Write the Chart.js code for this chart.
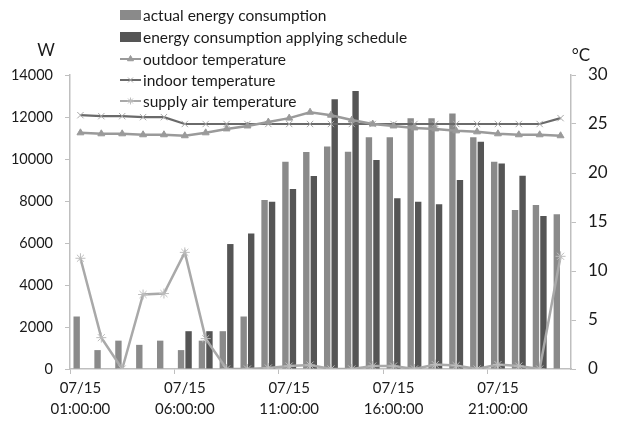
<!DOCTYPE html>
<html>
<head>
<meta charset="utf-8">
<script src="https://cdn.jsdelivr.net/npm/chart.js@4/dist/chart.umd.min.js"></script>
<style>
  html, body { margin: 0; padding: 0; background: #ffffff; }
  #wrap { position: relative; width: 618px; height: 424px; }
</style>
</head>
<body>
<div id="wrap"><canvas id="c" width="618" height="424"></canvas></div>
<script>
// Hourly timestamps for 15 July
const hours = ['01:00:00','02:00:00','03:00:00','04:00:00','05:00:00','06:00:00','07:00:00','08:00:00',
  '09:00:00','10:00:00','11:00:00','12:00:00','13:00:00','14:00:00','15:00:00','16:00:00',
  '17:00:00','18:00:00','19:00:00','20:00:00','21:00:00','22:00:00','23:00:00','24:00:00'];
const dateLabel = '07/15';

// Energy consumption (W)
const actualEnergy = [2500, 900, 1350, 1150, 1350, 900, 1350, 1800, 2500, 8050, 9870, 10330,
  10590, 10350, 11030, 11030, 11940, 11940, 12170, 11030, 9870, 7570, 7810, 7370];
const scheduledEnergy = [0, 0, 0, 0, 0, 1800, 1800, 5950, 6450, 7970, 8570, 9190,
  12840, 13240, 9950, 8130, 7970, 7840, 9000, 10820, 9790, 9200, 7290, 0];

// Temperatures (°C)
const outdoorTemp = [24.1, 24.0, 24.0, 23.9, 23.9, 23.8, 24.1, 24.5, 24.8, 25.2, 25.6, 26.2,
  25.9, 25.4, 25.0, 24.8, 24.6, 24.5, 24.3, 24.2, 24.0, 23.9, 23.9, 23.8];
const indoorTemp = [25.9, 25.8, 25.8, 25.7, 25.7, 25.0, 25.0, 25.0, 25.0, 25.0, 25.0, 25.0,
  25.0, 25.0, 25.0, 25.0, 25.0, 25.0, 25.0, 25.0, 25.0, 25.0, 25.0, 25.6];
const supplyTemp = [11.3, 3.2, 0, 7.6, 7.7, 11.9, 3.1, 0, 0, 0.1, 0.3, 0.4,
  0, 0, 0.3, 0.3, 0, 0.45, 0.35, 0, 0.45, 0.3, 0, 11.5];

const FONT = 'Lato, "Open Sans", sans-serif';
const AXIS_COLOR = '#bfbfbf';
const TEXT_COLOR = '#1a1a1a';

const categories = hours.map(h => [dateLabel, h]);

// Legend drawn inside the canvas above the plot
const legendPlugin = {
  id: 'topLegend',
  afterDraw(chart) {
    const ctx = chart.ctx;
    const x0 = 120, x1 = 141, tx = 143;
    const rows = [15, 37, 59, 80, 101];
    const ds = chart.data.datasets;
    ctx.save();
    ctx.font = '15.5px ' + FONT;
    ctx.textBaseline = 'middle';
    ds.forEach((d, i) => {
      const y = rows[i];
      if (d.type === 'bar') {
        ctx.fillStyle = d.backgroundColor;
        ctx.fillRect(x0, y - 5, x1 - x0, 10);
      } else {
        ctx.strokeStyle = d.borderColor;
        ctx.lineWidth = 2;
        ctx.beginPath();
        ctx.moveTo(x0, y);
        ctx.lineTo(x1, y);
        ctx.stroke();
        ctx.fillStyle = d.pointBackgroundColor;
        ctx.strokeStyle = d.pointBorderColor;
        ctx.lineWidth = 1;
        Chart.helpers.drawPoint(ctx, { pointStyle: d.pointStyle, radius: 3.5, borderWidth: 1, rotation: 0 }, (x0 + x1) / 2, y);
      }
      ctx.fillStyle = TEXT_COLOR;
      ctx.fillText(d.label, tx, y + 1);
    });
    // unit captions
    ctx.font = '17px ' + FONT;
    ctx.textAlign = 'center';
    ctx.fillText('W', 46, 51);
    ctx.fillText('°C', 581, 56);
    ctx.restore();
  }
};

new Chart(document.getElementById('c'), {
  data: {
    labels: categories,
    datasets: [
      {
        type: 'bar', label: 'actual energy consumption', data: actualEnergy,
        backgroundColor: '#8a8a8a', yAxisID: 'y', order: 2,
        categoryPercentage: 0.72, barPercentage: 0.85
      },
      {
        type: 'bar', label: 'energy consumption applying schedule', data: scheduledEnergy,
        backgroundColor: '#555555', yAxisID: 'y', order: 2,
        categoryPercentage: 0.72, barPercentage: 0.85
      },
      {
        type: 'line', label: 'outdoor temperature', data: outdoorTemp, yAxisID: 'y1', order: 1,
        borderColor: '#9a9a9a', borderWidth: 2.5, pointStyle: 'triangle', pointRadius: 4,
        pointBackgroundColor: '#9a9a9a', pointBorderColor: '#9a9a9a', pointBorderWidth: 1, tension: 0
      },
      {
        type: 'line', label: 'indoor temperature', data: indoorTemp, yAxisID: 'y1', order: 1,
        borderColor: '#6a6a6a', borderWidth: 2.2, pointStyle: 'crossRot', pointRadius: 4.5,
        pointBackgroundColor: '#a8a8a8', pointBorderColor: '#a8a8a8', pointBorderWidth: 1, tension: 0
      },
      {
        type: 'line', label: 'supply air temperature', data: supplyTemp, yAxisID: 'y1', order: 1,
        borderColor: '#a9a9a9', borderWidth: 2.5, pointStyle: 'star', pointRadius: 5,
        pointBackgroundColor: '#bdbdbd', pointBorderColor: '#bdbdbd', pointBorderWidth: 1, tension: 0
      }
    ]
  },
  options: {
    responsive: false,
    animation: false,
    events: [],
    layout: { padding: { top: 75, left: 0, right: 0, bottom: 0 } },
    plugins: { legend: { display: false }, tooltip: { enabled: false } },
    scales: {
      x: {
        offset: true,
        grid: {
          offset: true,
          drawOnChartArea: false,
          tickLength: 5,
          tickColor: (ctx) => (ctx.index % 5 === 0 ? AXIS_COLOR : 'rgba(0,0,0,0)')
        },
        border: { color: AXIS_COLOR, width: 1.5 },
        ticks: {
          autoSkip: false,
          maxRotation: 0,
          padding: 4,
          color: TEXT_COLOR,
          font: { family: FONT, size: 15, lineHeight: 1.4 },
          callback: function (v, i) { return i % 5 === 0 ? this.getLabelForValue(v) : ''; }
        },
        afterFit: (s) => { s.height = 55; }
      },
      y: {
        position: 'left',
        min: 0, max: 14000,
        grid: { drawOnChartArea: false, tickLength: 5, tickColor: AXIS_COLOR },
        border: { color: AXIS_COLOR, width: 1.5 },
        ticks: { stepSize: 2000, padding: 12, color: TEXT_COLOR, font: { family: FONT, size: 14.5 },
          callback: (v) => String(v) },
        afterFit: (s) => { s.width = 70; }
      },
      y1: {
        position: 'right',
        min: 0, max: 30,
        grid: { drawOnChartArea: false, tickLength: 5, tickColor: AXIS_COLOR },
        border: { color: AXIS_COLOR, width: 1.5 },
        ticks: { stepSize: 5, padding: 12, color: TEXT_COLOR, font: { family: FONT, size: 17 } },
        afterFit: (s) => { s.width = 47; }
      }
    }
  },
  plugins: [legendPlugin]
});
</script>
</body>
</html>
